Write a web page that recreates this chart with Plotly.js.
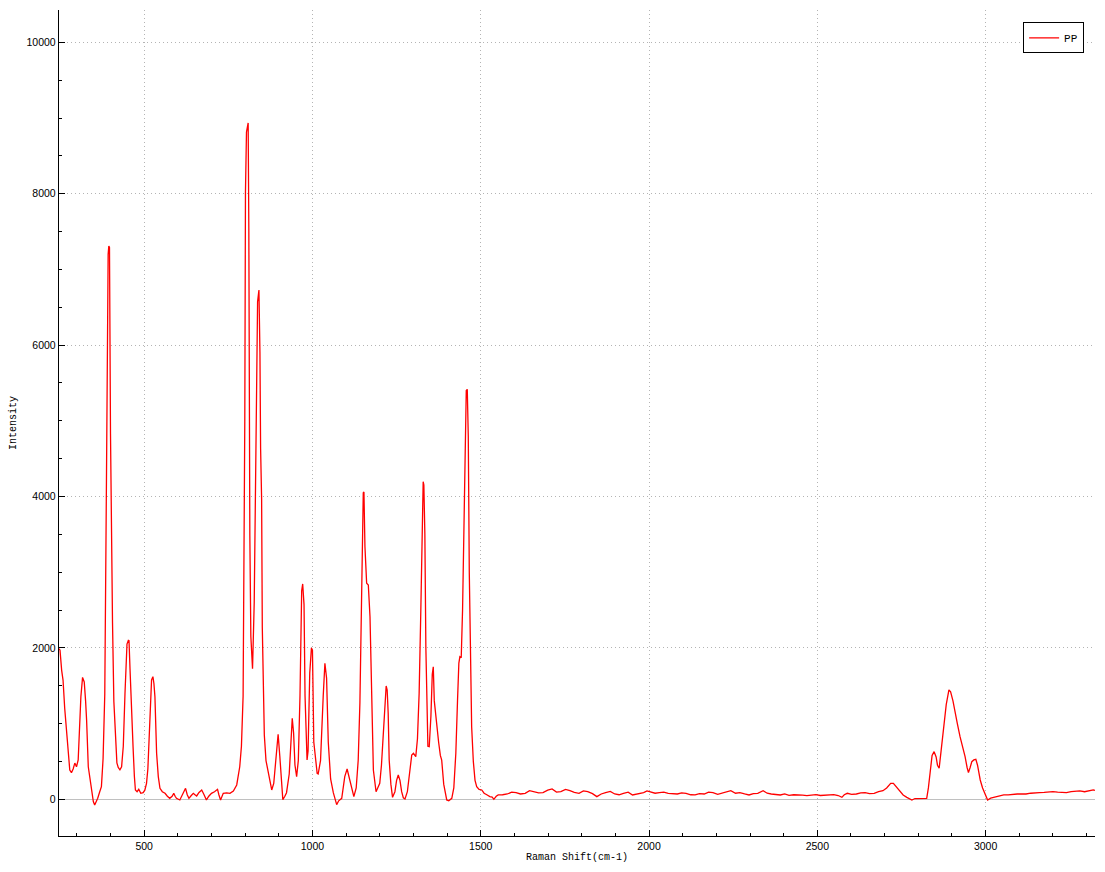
<!DOCTYPE html>
<html>
<head>
<meta charset="utf-8">
<script src="https://cdn.plot.ly/plotly-3.0.1.min.js"></script>
<style>
  html, body { margin: 0; padding: 0; background: #ffffff; }
  #chart { width: 1105px; height: 872px; }
</style>
</head>
<body>
<div id="chart"></div>
<script>
// Raman spectrum of PP
const seriesName = "PP";
const ramanShift = [
  247,250,255,259,264,269,274,279,284,289,294,299,304,308,312,317,322,326,329,334,
  339,345,349,353,357,362,368,373,378,383,388,391,393,395,397,400,403,406,410,415,
  419,423,428,433,438,443,449,453,455,458,463,467,471,474,479,484,490,497,502,507,
  511,514,518,522,526,529,532,537,542,547,554,562,569,576,583,588,592,596,606,614,
  620,623,628,633,640,646,651,656,663,671,678,685,692,700,709,718,722,727,735,745,
  755,765,775,784,789,794,799,801,804,807,809,811,812,814,817,822,827,832,837,841,
  844,846,849,851,854,857,862,869,874,879,885,893,898,903,908,912,918,923,931,936,
  940,944,948,953,958,963,968,971,975,978,984,987,992,997,1000,1004,1010,1014,1017,1024,
  1032,1037,1042,1047,1054,1062,1072,1078,1087,1091,1096,1103,1108,1115,1123,1130,1136,1141,1146,1151,
  1153,1156,1161,1166,1171,1174,1177,1181,1189,1195,1200,1205,1210,1217,1219,1222,1225,1228,1233,1238,
  1245,1250,1255,1260,1265,1270,1275,1282,1288,1295,1300,1307,1312,1317,1322,1326,1329,1331,1334,1337,
  1340,1343,1347,1352,1356,1359,1362,1366,1369,1375,1380,1384,1390,1395,1399,1405,1414,1420,1426,1431,
  1435,1438,1442,1446,1450,1454,1457,1460,1463,1466,1469,1473,1478,1483,1488,1495,1503,1510,1518,1527,
  1534,1539,1546,1552,1565,1579,1592,1605,1618,1632,1645,1659,1672,1685,1699,1712,1725,1738,1752,1765,
  1778,1792,1805,1818,1832,1845,1858,1871,1885,1898,1911,1924,1938,1951,1967,1984,1994,2004,2018,2031,
  2044,2057,2070,2084,2097,2110,2124,2137,2150,2164,2177,2190,2204,2217,2230,2243,2257,2270,2284,2297,
  2310,2323,2339,2351,2363,2377,2390,2403,2416,2430,2443,2456,2469,2483,2496,2509,2523,2536,2549,2562,
  2573,2580,2589,2602,2616,2629,2642,2655,2669,2682,2695,2706,2718,2726,2735,2745,2755,2766,2775,2781,
  2790,2802,2818,2825,2830,2835,2841,2847,2853,2857,2862,2868,2875,2883,2891,2896,2903,2909,2916,2924,
  2932,2939,2945,2949,2954,2959,2965,2971,2976,2984,2991,2998,3006,3015,3027,3040,3054,3067,3080,3094,
  3107,3120,3134,3147,3160,3174,3187,3200,3214,3227,3240,3254,3267,3280,3294,3307,3320,3325
];
const intensity = [
  1990,1970,1700,1575,1200,915,560,386,351,400,478,430,519,900,1355,1610,1550,1300,1048,430,
  255,79,-30,-75,-40,13,100,166,538,1392,4218,6500,7200,7310,7290,4830,3275,2329,1293,730,
  480,420,390,430,700,1392,2051,2100,2095,1721,1008,695,300,123,100,132,79,87,120,211,
  400,695,1150,1576,1620,1530,1355,608,300,145,100,79,40,13,40,79,40,13,-9,60,
  120,145,60,13,50,79,60,44,90,123,60,-9,40,79,100,132,60,-9,79,85,
  79,110,189,430,700,1365,4994,8026,8815,8930,8935,7540,5843,3480,2150,1724,2600,4994,6572,6728,
  5909,4632,3967,2270,1180,850,511,334,200,123,209,638,860,572,150,-5,40,87,334,876,
  1070,876,453,300,511,1365,2754,2845,2572,1365,519,638,1669,2000,1970,756,453,343,334,511,
  1365,1797,1600,756,268,87,-70,-20,13,150,300,400,300,150,35,150,519,1272,3029,4050,
  4060,3337,2853,2831,2412,1708,1008,387,100,150,211,450,827,1488,1497,1444,1140,519,200,26,
  100,250,321,250,100,20,4,100,300,585,608,563,800,1400,2500,3800,4196,4150,3500,2000,
  1000,700,695,1100,1650,1750,1300,1100,1048,750,580,519,200,50,-9,-20,13,150,608,1300,
  1800,1884,1870,2500,3800,5000,5400,5416,4800,3000,1800,959,500,250,166,130,123,80,60,35,
  30,0,40,57,60,70,95,88,70,79,115,101,85,88,120,136,95,101,130,114,
  90,79,110,101,75,35,70,88,105,70,60,79,95,57,70,88,110,101,80,88,
  95,79,70,70,85,79,60,57,75,70,95,88,65,79,100,114,80,88,70,57,
  75,79,114,80,70,60,57,70,53,60,62,55,48,60,62,50,53,60,62,50,
  26,60,79,65,70,85,88,75,79,100,114,150,211,211,167,120,57,26,0,-9,
  10,13,13,13,150,387,580,629,560,450,410,650,959,1250,1444,1420,1300,1180,1000,827,
  700,563,420,352,420,497,520,528,450,255,150,79,-9,15,26,40,57,57,65,70,
  70,70,80,88,88,90,95,101,95,88,88,100,105,110,100,115,123,118
];

const xTicks = [500, 1000, 1500, 2000, 2500, 3000];
const yTicks = [0, 2000, 4000, 6000, 8000, 10000];

const tickFont = {family: "Liberation Sans, Arial, sans-serif", size: 10.5, color: "#000000"};
const titleFont = {family: "Liberation Mono, DejaVu Sans Mono, monospace", size: 10, color: "#000000"};

const trace = {
  x: ramanShift,
  y: intensity,
  type: "scatter",
  mode: "lines",
  name: seriesName,
  line: {color: "#ff0000", width: 1.3},
  showlegend: true
};

const layout = {
  width: 1105,
  height: 872,
  margin: {l: 59, r: 10, t: 10, b: 36, pad: 0},
  paper_bgcolor: "#ffffff",
  plot_bgcolor: "#ffffff",
  showlegend: true,
  legend: {
    x: 0.9895, xanchor: "right", xref: "paper",
    y: 0.985, yanchor: "top", yref: "paper",
    bgcolor: "#ffffff",
    bordercolor: "#000000",
    borderwidth: 1,
    font: {family: "Liberation Mono, DejaVu Sans Mono, monospace", size: 11, color: "#000000"},
    itemwidth: 30,
    tracegroupgap: 0
  },
  xaxis: {
    range: [247, 3325],
    tickvals: xTicks,
    ticktext: xTicks.map(String),
    ticks: "inside",
    ticklen: 6,
    tickwidth: 1,
    tickcolor: "#000000",
    minor: {dtick: 100, tick0: 0, ticks: "inside", ticklen: 3, tickcolor: "#000000", showgrid: false},
    showline: true,
    linecolor: "#000000",
    linewidth: 1.2,
    showgrid: true,
    gridcolor: "#b4b4b4",
    griddash: "1px,3px",
    gridwidth: 1,
    zeroline: false,
    tickfont: tickFont,
    automargin: false,
    title: {text: "Raman Shift(cm-1)", font: titleFont, standoff: 2}
  },
  yaxis: {
    range: [-485, 10427],
    tickvals: yTicks,
    ticktext: yTicks.map(String),
    ticks: "inside",
    ticklen: 6,
    tickwidth: 1,
    tickcolor: "#000000",
    minor: {dtick: 500, tick0: 0, ticks: "inside", ticklen: 3, tickcolor: "#000000", showgrid: false},
    showline: true,
    linecolor: "#000000",
    linewidth: 1.2,
    showgrid: true,
    gridcolor: "#b4b4b4",
    griddash: "1px,3px",
    gridwidth: 1,
    zeroline: true,
    zerolinecolor: "#c0c0c0",
    zerolinewidth: 1,
    tickfont: tickFont,
    automargin: false,
    title: {text: "Intensity", font: titleFont, standoff: 8}
  }
};

Plotly.newPlot("chart", [trace], layout, {displayModeBar: false, staticPlot: true});
</script>
</body>
</html>
